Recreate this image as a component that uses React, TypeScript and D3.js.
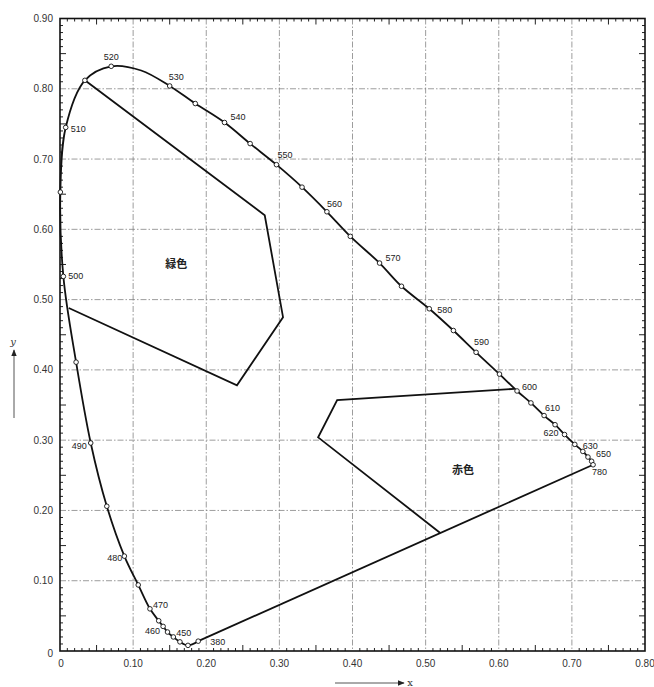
import React from "react";
import * as d3 from "d3";

// Spectrum locus as drawn (wavelength nm, x, y)
const wavelengths = [380, 420, 440, 450, 455, 460, 465, 470, 475, 480, 485, 490, 495, 500, 505, 510, 515, 520, 525, 530, 535, 540, 545, 550, 555, 560, 565, 570, 575, 580, 585, 590, 595, 600, 605, 610, 615, 620, 630, 640, 650, 660, 780];
const locusX = [0.189, 0.175, 0.164, 0.155, 0.147, 0.141, 0.135, 0.123, 0.107, 0.088, 0.064, 0.042, 0.022, 0.0046, 0.0005, 0.0078, 0.034, 0.070, 0.111, 0.150, 0.185, 0.225, 0.260, 0.296, 0.331, 0.365, 0.397, 0.437, 0.467, 0.505, 0.538, 0.569, 0.601, 0.625, 0.644, 0.662, 0.677, 0.690, 0.704, 0.715, 0.722, 0.727, 0.729];
const locusY = [0.014, 0.008, 0.013, 0.020, 0.027, 0.035, 0.043, 0.060, 0.094, 0.135, 0.206, 0.296, 0.411, 0.533, 0.653, 0.745, 0.812, 0.832, 0.826, 0.804, 0.779, 0.752, 0.722, 0.692, 0.660, 0.625, 0.590, 0.552, 0.519, 0.487, 0.456, 0.425, 0.394, 0.370, 0.353, 0.335, 0.322, 0.308, 0.294, 0.284, 0.276, 0.270, 0.265];
const markedWavelengths = [380, 420, 440, 450, 455, 460, 465, 470, 475, 480, 485, 490, 495, 500, 505, 510, 515, 520, 530, 535, 540, 545, 550, 555, 560, 565, 570, 575, 580, 585, 590, 595, 600, 605, 610, 615, 620, 630, 640, 650, 660, 780];
const labeledWavelengths = [380, 450, 460, 470, 480, 490, 500, 510, 520, 530, 540, 550, 560, 570, 580, 590, 600, 610, 620, 630, 650, 780];

// Colour regions
const greenRegionX = [0.034, 0.280, 0.305, 0.242, 0.012];
const greenRegionY = [0.812, 0.620, 0.475, 0.378, 0.488];
const redRegionX = [0.621, 0.379, 0.353, 0.520];
const redRegionY = [0.373, 0.357, 0.304, 0.168];
const regionNames = ["緑色", "赤色"];
const regionLabelX = [0.159, 0.551];
const regionLabelY = [0.551, 0.257];

// Axes
const xTicks = [0, 0.1, 0.2, 0.3, 0.4, 0.5, 0.6, 0.7, 0.8];
const yTicks = [0, 0.1, 0.2, 0.3, 0.4, 0.5, 0.6, 0.7, 0.8, 0.9];
const xDomain = [0, 0.8];
const yDomain = [0, 0.9];

// label placement (styling, px offsets from the point)
const labelStyle: Record<number, [number, number, string]> = {
  380: [12, 4, "start"],
  450: [3, -1, "start"],
  460: [-3, 8, "end"],
  470: [3, -1, "start"],
  480: [-2, 5, "end"],
  490: [-4, 6, "end"],
  500: [5, 3, "start"],
  510: [5, 5, "start"],
  520: [0, -6, "middle"],
  530: [-1, -6, "start"],
  540: [6, -3, "start"],
  550: [1, -7, "start"],
  560: [0, -5, "start"],
  570: [6, -2, "start"],
  580: [8, 4, "start"],
  590: [-2, -7, "start"],
  600: [5, -1, "start"],
  610: [1, -5, "start"],
  620: [-6, 1, "end"],
  630: [8, 5, "start"],
  650: [8, 0, "start"],
  780: [-1, 10, "start"],
};

const W = 654;
const H = 687;
const left = 60, right = 645, top = 18.5, bottom = 651;

export default function App() {
  const x = d3.scaleLinear().domain(xDomain).range([left, right]);
  const y = d3.scaleLinear().domain(yDomain).range([bottom, top]);
  const fmt = (v: number) => (v === 0 ? "0" : d3.format(".2f")(v));

  const locusPts: [number, number][] = wavelengths.map((_, i) => [x(locusX[i]), y(locusY[i])]);
  const locusPath = d3.line().curve(d3.curveCatmullRom.alpha(0.5))(locusPts) || "";
  const i380 = wavelengths.indexOf(380);
  const i780 = wavelengths.indexOf(780);
  const purple = d3.line()([[x(locusX[i380]), y(locusY[i380])], [x(locusX[i780]), y(locusY[i780])]]) || "";
  const greenPath = d3.line()(greenRegionX.map((v, i) => [x(v), y(greenRegionY[i])] as [number, number])) || "";
  const redPath = d3.line()(redRegionX.map((v, i) => [x(v), y(redRegionY[i])] as [number, number])) || "";

  const minorX = d3.range(0, 81).map((i) => i / 100);
  const minorY = d3.range(0, 91).map((i) => i / 100);
  const tickLen = (v: number) => {
    const k = Math.round(v * 100);
    if (k % 10 === 0) return 0;
    if (k % 5 === 0) return 6;
    return 3;
  };

  const numFont = "'Liberation Sans', Arial, sans-serif";
  const gridStyle = { stroke: "#7c7c7c", strokeWidth: 0.75, strokeDasharray: "6 2 1.5 2" };

  return (
    <svg width={W} height={H} style={{ position: "absolute", left: 0, top: 0, background: "#fff" }}>
      <defs>
        <marker id="ah" viewBox="0 0 10 10" refX="9" refY="5" markerWidth="7" markerHeight="7" orient="auto">
          <path d="M0,1 L10,5 L0,9 z" fill="#222" />
        </marker>
      </defs>
      {/* grid */}
      {xTicks.filter((v) => v > 0 && v < 0.8).map((v) => (
        <line key={"gx" + v} x1={x(v)} x2={x(v)} y1={top} y2={bottom} style={gridStyle} />
      ))}
      {yTicks.filter((v) => v > 0 && v < 0.9).map((v) => (
        <line key={"gy" + v} y1={y(v)} y2={y(v)} x1={left} x2={right} style={gridStyle} />
      ))}
      {/* minor ticks inside frame */}
      {minorX.map((v) => {
        const l = tickLen(v);
        return l ? (
          <g key={"tx" + v} stroke="#222" strokeWidth={1}>
            <line x1={x(v)} x2={x(v)} y1={bottom} y2={bottom - l} />
            <line x1={x(v)} x2={x(v)} y1={top} y2={top + l} />
          </g>
        ) : null;
      })}
      {minorY.map((v) => {
        const l = tickLen(v);
        return l ? (
          <g key={"ty" + v} stroke="#222" strokeWidth={1}>
            <line y1={y(v)} y2={y(v)} x1={left} x2={left + l} />
            <line y1={y(v)} y2={y(v)} x1={right} x2={right - l} />
          </g>
        ) : null;
      })}
      {/* frame */}
      <rect x={left} y={top} width={right - left} height={bottom - top} fill="none" stroke="#111" strokeWidth={1.6} />
      {/* tick labels */}
      {xTicks.map((v) => (
        <text key={"lx" + v} x={x(v) + (v === 0 ? 1 : 0)} y={bottom + 16} textAnchor="middle" fontFamily={numFont} fontSize={10} fill="#333">
          {fmt(v)}
        </text>
      ))}
      {yTicks.map((v) => (
        <text key={"ly" + v} x={left - 7} y={y(v) + (v === 0 ? 6 : 3.5)} textAnchor="end" fontFamily={numFont} fontSize={10} fill="#333">
          {fmt(v)}
        </text>
      ))}
      {/* axis arrows */}
      <line x1={14} y1={418} x2={14} y2={350} stroke="#555" strokeWidth={1} markerEnd="url(#ah)" />
      <text x={13} y={345} textAnchor="middle" fontFamily="'DejaVu Serif', serif" fontStyle="italic" fontSize={10} fill="#333">y</text>
      <line x1={335} y1={683} x2={404} y2={683} stroke="#555" strokeWidth={1} markerEnd="url(#ah)" />
      <text x={410} y={686} textAnchor="middle" fontFamily="'DejaVu Serif', serif" fontSize={10} fill="#333">x</text>
      {/* spectrum locus, purple line, regions */}
      <path d={locusPath} fill="none" stroke="#111" strokeWidth={1.8} />
      <path d={purple} fill="none" stroke="#111" strokeWidth={1.8} />
      <path d={greenPath} fill="none" stroke="#111" strokeWidth={1.8} strokeLinejoin="miter" />
      <path d={redPath} fill="none" stroke="#111" strokeWidth={1.8} strokeLinejoin="miter" />
      {/* markers */}
      {markedWavelengths.map((w) => {
        const i = wavelengths.indexOf(w);
        return <circle key={"m" + w} cx={x(locusX[i])} cy={y(locusY[i])} r={2.3} fill="#fff" stroke="#111" strokeWidth={0.9} />;
      })}
      {/* wavelength labels */}
      {labeledWavelengths.map((w) => {
        const i = wavelengths.indexOf(w);
        const [dx, dy, anchor] = labelStyle[w];
        return (
          <text key={"w" + w} x={x(locusX[i]) + dx} y={y(locusY[i]) + dy} textAnchor={anchor as any} fontFamily={numFont} fontSize={9} fill="#222">
            {w}
          </text>
        );
      })}
      {/* region names */}
      {regionNames.map((n, i) => (
        <text key={n} x={x(regionLabelX[i])} y={y(regionLabelY[i]) + 4} textAnchor="middle" fontFamily="'Noto Sans CJK JP', sans-serif" fontWeight={700} fontSize={11} fill="#222">
          {n}
        </text>
      ))}
    </svg>
  );
}
